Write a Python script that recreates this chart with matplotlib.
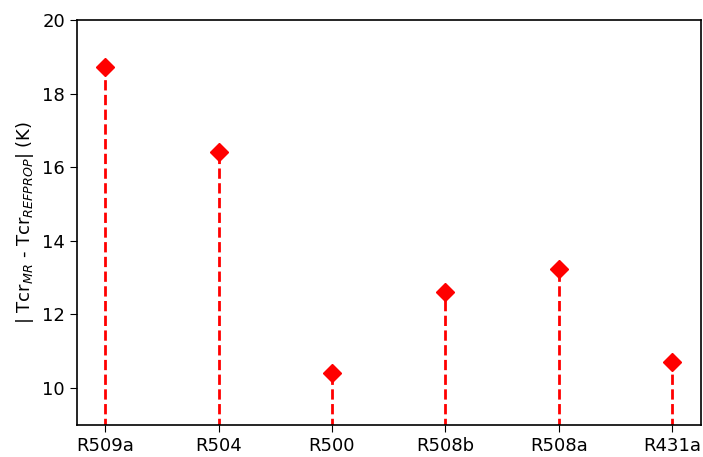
import matplotlib
matplotlib.use("Agg")
import matplotlib.pyplot as plt

# Critical temperature deviation of the mixing rule vs REFPROP, per refrigerant
refrigerants = ["R509a", "R504", "R500", "R508b", "R508a", "R431a"]
tcr_dev = [18.72, 16.4, 10.4, 12.62, 13.22, 10.7]

plt.rcParams["font.size"] = 13
plt.rcParams["axes.linewidth"] = 1.2
plt.rcParams["xtick.major.size"] = 5
plt.rcParams["ytick.major.size"] = 5

fig = plt.figure(figsize=(7.03, 4.57), dpi=100)
ax = fig.add_axes([76.7 / 703, 1 - 424.7 / 457, (700.7 - 76.7) / 703, (424.7 - 20) / 457])

x = list(range(len(refrigerants)))
markers, stems, base = ax.stem(x, tcr_dev, linefmt="r--", markerfmt="rD",
                               basefmt=" ", bottom=0)
stems.set_linewidth(2)
markers.set_markersize(9)

ax.set_xticks(x)
ax.set_xticklabels(refrigerants)
ax.set_xlim(-0.25, 5.25)
ax.set_ylim(9, 20)
ax.set_yticks([10, 12, 14, 16, 18, 20])
ax.set_ylabel(r"| Tcr$_{MR}$ - Tcr$_{REFPROP}$| (K)")

fig.savefig("out.png", dpi=100)
